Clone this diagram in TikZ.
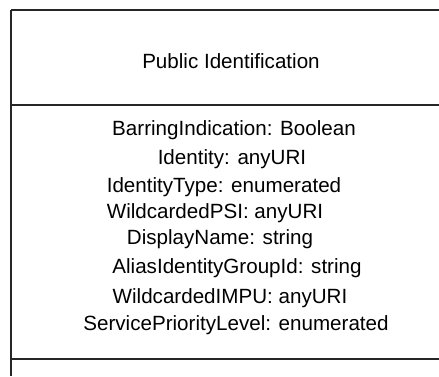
\documentclass[tikz,border=0pt]{standalone}
\usepackage{fontspec}
\setmainfont{Liberation Sans}
\usepackage{tikz}

\begin{document}
\begin{tikzpicture}[x=1pt, y=-1pt, every node/.style={inner sep=0pt, font=\fontsize{20.6}{24}\selectfont}, every path/.style={draw=black!85, line width=1.3pt}]
				\useasboundingbox[draw=none] (0,0) rectangle (439,376);
				\coordinate (a) at (11,10);
				\coordinate (b) at (439,10);
				\coordinate (c) at (11,105);
				\coordinate (d) at (439,105);
				\coordinate (e) at (11,359);
				\coordinate (f) at (439,359);
				\coordinate (g) at (11,376);
				
				\path (a) edge (b);
				\path (a) edge (g);
				\path (c) edge (d);
				\path (e) edge (f);
				
				\node (name) at (231,61){Public Identification};
				
				\node (t1) at (234,130){BarringIndication: Boolean};
				\node (t2) at (232,159){Identity: anyURI};
				\node (t3) at (224,187){IdentityType: enumerated};
				\node (t4) at (215,213){WildcardedPSI: anyURI};
				\node (t5) at (220,239){DisplayName: string};
				\node (t6) at (237,268){AliasIdentityGroupId: string};
				\node (t7) at (230,298){WildcardedIMPU: anyURI};
				\node (t8) at (236,325){ServicePriorityLevel: enumerated};
				\end{tikzpicture}
\end{document}
